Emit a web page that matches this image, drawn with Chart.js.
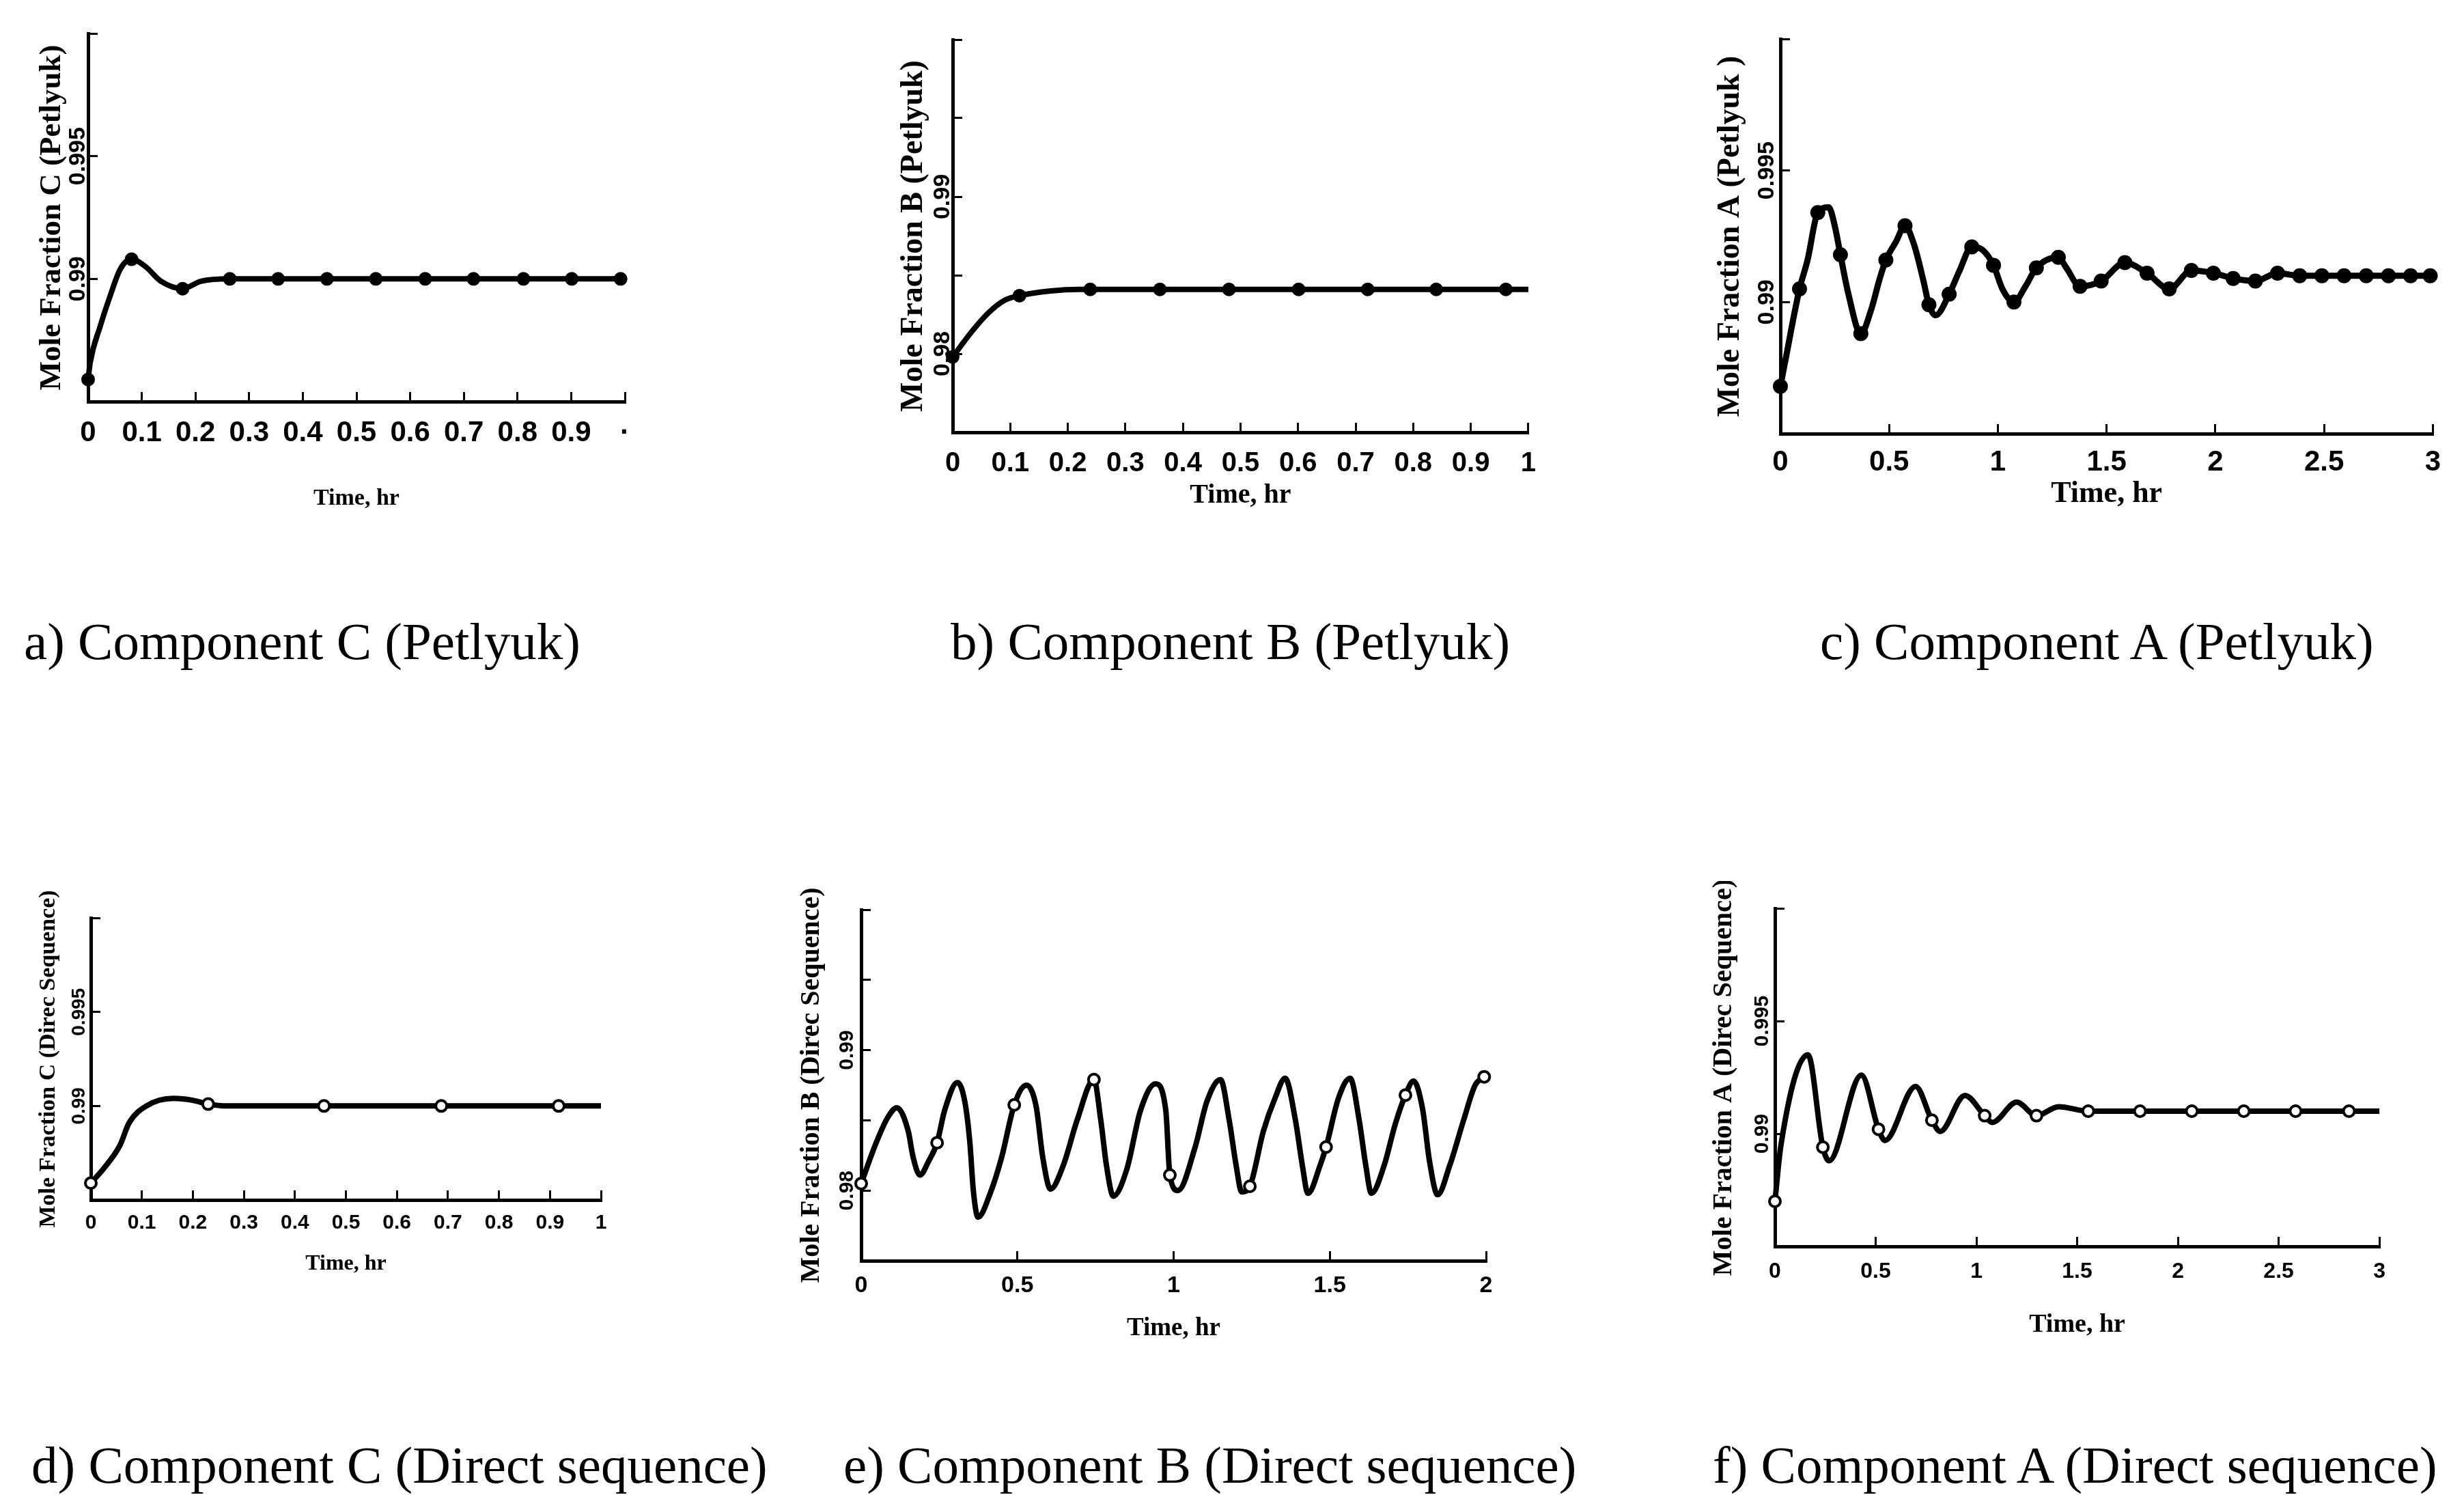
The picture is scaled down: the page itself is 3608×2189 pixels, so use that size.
<!DOCTYPE html>
<html>
<head>
<meta charset="utf-8">
<script src="https://cdn.jsdelivr.net/npm/chart.js@4.4.1/dist/chart.umd.min.js"></script>
<style>
  body { margin: 0; background: #fff; }
  #page { position: relative; width: 3608px; height: 2189px; background: #fff; overflow: hidden; }
  #page canvas { position: absolute; }
  .cap { position: absolute; font-family: "Liberation Serif", "Times New Roman", serif; font-size: 77px; line-height: 1; white-space: nowrap; color: #000; }
</style>
</head>
<body>
<div id="page">
  <canvas id="chartA"></canvas>
  <canvas id="chartB"></canvas>
  <canvas id="chartC"></canvas>
  <canvas id="chartD"></canvas>
  <canvas id="chartE"></canvas>
  <canvas id="chartF"></canvas>
  <div class="cap" style="left:35px;top:901px">a) Component C (Petlyuk)</div>
  <div class="cap" style="left:1392px;top:901px">b) Component B (Petlyuk)</div>
  <div class="cap" style="left:2665px;top:901px">c) Component A (Petlyuk)</div>
  <div class="cap" style="left:46px;top:2107px">d) Component C (Direct sequence)</div>
  <div class="cap" style="left:1235px;top:2107px">e) Component B (Direct sequence)</div>
  <div class="cap" style="left:2508px;top:2107px">f) Component A (Direct sequence)</div>
</div>
<script>
// a) Component C (Petlyuk)
const petCTime = [0, 0.004, 0.023, 0.041, 0.06, 0.081, 0.107, 0.136, 0.176, 0.21, 0.264, 0.5, 0.75, 0.992];
const petCMole = [0.9859, 0.9866, 0.9881, 0.9893, 0.9904, 0.9908, 0.9905, 0.9899, 0.9896, 0.9899, 0.99, 0.99, 0.99, 0.99];
const petCMarkTime = [0, 0.081, 0.176, 0.264, 0.354, 0.445, 0.536, 0.628, 0.718, 0.811, 0.901, 0.992];
const petCMarkMole = [0.9859, 0.9908, 0.9896, 0.99, 0.99, 0.99, 0.99, 0.99, 0.99, 0.99, 0.99, 0.99];

// b) Component B (Petlyuk)
const petBTime = [0, 0.033, 0.062, 0.09, 0.116, 0.17, 0.22, 1.0];
const petBMole = [0.9798, 0.9814, 0.9826, 0.9834, 0.9837, 0.984, 0.9841, 0.9841];
const petBMarkTime = [0, 0.116, 0.239, 0.36, 0.48, 0.601, 0.721, 0.84, 0.961];
const petBMarkMole = [0.9798, 0.9837, 0.9841, 0.9841, 0.9841, 0.9841, 0.9841, 0.9841, 0.9841];

// c) Component A (Petlyuk)
const petATime = [0, 0.021, 0.088, 0.125, 0.172, 0.222, 0.25, 0.276, 0.313, 0.37, 0.417, 0.457, 0.485, 0.532, 0.573, 0.614, 0.658, 0.683, 0.714, 0.776, 0.824, 0.88, 0.927, 0.98, 1.021, 1.074, 1.127, 1.177, 1.278, 1.315, 1.378, 1.475, 1.584, 1.686, 1.788, 1.89, 1.991, 2.082, 2.184, 2.286, 2.388, 3.0];
const petAMole = [0.9868, 0.9877, 0.9905, 0.9916, 0.9934, 0.9936, 0.9929, 0.9918, 0.9903, 0.9888, 0.9897, 0.9909, 0.9916, 0.9923, 0.9929, 0.9922, 0.9908, 0.9899, 0.9895, 0.9903, 0.9912, 0.9921, 0.992, 0.9914, 0.9905, 0.99, 0.9906, 0.9913, 0.9917, 0.9913, 0.9906, 0.9908, 0.9915, 0.9911, 0.9905, 0.9912, 0.9911, 0.9909, 0.9908, 0.9911, 0.991, 0.991];
const petAMarkTime = [0, 0.088, 0.172, 0.276, 0.37, 0.485, 0.573, 0.683, 0.776, 0.88, 0.98, 1.074, 1.177, 1.278, 1.378, 1.475, 1.584, 1.686, 1.788, 1.89, 1.991, 2.082, 2.184, 2.286, 2.388, 2.49, 2.592, 2.694, 2.796, 2.898, 2.988];
const petAMarkMole = [0.9868, 0.9905, 0.9934, 0.9918, 0.9888, 0.9916, 0.9929, 0.9899, 0.9903, 0.9921, 0.9914, 0.99, 0.9913, 0.9917, 0.9906, 0.9908, 0.9915, 0.9911, 0.9905, 0.9912, 0.9911, 0.9909, 0.9908, 0.9911, 0.991, 0.991, 0.991, 0.991, 0.991, 0.991, 0.991];

// d) Component C (Direct sequence)
const dirCTime = [0, 0.026, 0.057, 0.075, 0.109, 0.162, 0.2, 0.23, 0.268, 1.0];
const dirCMole = [0.9859, 0.9867, 0.9879, 0.9891, 0.99, 0.9904, 0.9903, 0.9901, 0.99, 0.99];
const dirCMarkTime = [0, 0.23, 0.457, 0.687, 0.917];
const dirCMarkMole = [0.9859, 0.9901, 0.99, 0.99, 0.99];

// e) Component B (Direct sequence)
const dirBTime = [0, 0.048, 0.085, 0.114, 0.151, 0.166, 0.188, 0.216, 0.243, 0.267, 0.308, 0.332, 0.348, 0.359, 0.374, 0.413, 0.45, 0.49, 0.529, 0.56, 0.581, 0.606, 0.647, 0.691, 0.745, 0.767, 0.785, 0.807, 0.85, 0.894, 0.942, 0.975, 0.988, 1.014, 1.069, 1.106, 1.15, 1.178, 1.2, 1.218, 1.244, 1.287, 1.325, 1.357, 1.39, 1.412, 1.43, 1.469, 1.488, 1.528, 1.565, 1.594, 1.615, 1.633, 1.674, 1.709, 1.742, 1.768, 1.797, 1.819, 1.845, 1.884, 1.928, 1.965, 1.994];
const dirBMole = [0.9805, 0.9834, 0.9852, 0.9859, 0.9842, 0.9824, 0.9811, 0.9821, 0.9834, 0.9857, 0.9877, 0.9863, 0.9834, 0.98, 0.9781, 0.9798, 0.9824, 0.9861, 0.9875, 0.986, 0.9824, 0.9801, 0.9818, 0.985, 0.9879, 0.985, 0.9818, 0.9796, 0.9815, 0.9857, 0.9876, 0.9857, 0.9811, 0.98, 0.9831, 0.9863, 0.9879, 0.985, 0.9818, 0.9799, 0.9803, 0.9842, 0.9866, 0.988, 0.985, 0.9818, 0.9798, 0.9818, 0.9831, 0.9866, 0.988, 0.985, 0.9818, 0.9798, 0.9818, 0.9847, 0.9868, 0.9878, 0.9858, 0.9821, 0.9797, 0.9818, 0.985, 0.9875, 0.9881];
const dirBMarkTime = [0, 0.243, 0.49, 0.745, 0.988, 1.244, 1.488, 1.742, 1.994];
const dirBMarkMole = [0.9805, 0.9834, 0.9861, 0.9879, 0.9811, 0.9803, 0.9831, 0.9868, 0.9881];

// f) Component A (Direct sequence)
const dirATime = [0, 0.03, 0.164, 0.238, 0.269, 0.429, 0.514, 0.546, 0.698, 0.779, 0.82, 0.943, 1.041, 1.078, 1.2, 1.298, 1.408, 1.555, 1.812, 2.069, 2.327, 2.584, 2.849, 3.0];
const dirAMole = [0.987, 0.9895, 0.9935, 0.9894, 0.9888, 0.9926, 0.9902, 0.9897, 0.9921, 0.9906, 0.9901, 0.9917, 0.9908, 0.9905, 0.9914, 0.9908, 0.9912, 0.991, 0.991, 0.991, 0.991, 0.991, 0.991, 0.991];
const dirAMarkTime = [0, 0.238, 0.514, 0.779, 1.041, 1.298, 1.555, 1.812, 2.069, 2.327, 2.584, 2.849];
const dirAMarkMole = [0.987, 0.9894, 0.9902, 0.9906, 0.9908, 0.9908, 0.991, 0.991, 0.991, 0.991, 0.991, 0.991];

// tick labels that are printed on the y axes
const yLabelsHigh = ['0.99', '0.995'];
const yLabelsLow = ['0.98', '0.99'];

function toPoints(xs, ys) {
    return xs.map(function(x, i) { return {x: x, y: ys[i]}; });
}

function fmtTenth(v) {
    return String(Math.round(v * 10) / 10);
}

function createPanel(p) {
    let titleLh = p.titleFont * 1.2;
    let timeLh = p.timeFont * 1.2;
    let left = Math.round(p.titleX - titleLh / 2 - 4);
    let top = p.axisT - 40;
    let right = p.axisR + 40;
    let bottom = Math.round(p.timeY + timeLh / 2 + 4);
    let yW = p.axisL - left;
    let xH = bottom - p.axisB;

    let canvas = document.getElementById(p.id);
    canvas.width = right - left;
    canvas.height = bottom - top;
    canvas.style.left = left + 'px';
    canvas.style.top = top + 'px';

    const config = {
        type: 'line',
        data: {
            datasets: [
                {
                    data: toPoints(p.markT, p.markY),
                    showLine: false,
                    pointRadius: p.markR,
                    pointBorderWidth: p.filled ? 2 : 4,
                    pointBackgroundColor: p.filled ? '#000' : '#fff',
                    pointBorderColor: '#000',
                    clip: false,
                    order: 0
                },
                {
                    data: toPoints(p.curveT, p.curveY),
                    borderColor: '#000',
                    borderWidth: p.lineW,
                    pointRadius: 0,
                    cubicInterpolationMode: 'monotone',
                    fill: false,
                    clip: false,
                    order: 1
                }
            ]
        },
        options: {
            responsive: false,
            animation: false,
            layout: {padding: {top: 40, right: 40, left: 0, bottom: 0}},
            plugins: {legend: {display: false}, tooltip: {enabled: false}},
            scales: {
                x: {
                    type: 'linear',
                    min: p.xMin,
                    max: p.xMax,
                    afterFit: function(s) { s.height = xH; },
                    border: {display: true, color: '#000', width: 5},
                    grid: {display: true, drawOnChartArea: false, drawTicks: true, tickLength: -14, tickWidth: 3, tickColor: '#000'},
                    ticks: {
                        stepSize: p.xStep,
                        autoSkip: false,
                        maxRotation: 0,
                        minRotation: 0,
                        padding: p.xPad,
                        color: '#000',
                        font: {family: 'Liberation Sans', weight: 'bold', size: p.xTickFont},
                        callback: p.xFmt
                    },
                    title: {
                        display: true,
                        text: 'Time, hr',
                        color: '#000',
                        padding: {top: 0, bottom: 4},
                        font: {family: 'Liberation Serif', weight: 'bold', size: p.timeFont}
                    }
                },
                y: {
                    type: 'linear',
                    min: p.yMin,
                    max: p.yMax,
                    afterFit: function(s) { s.width = yW; },
                    border: {display: true, color: '#000', width: 5},
                    grid: {display: true, drawOnChartArea: false, drawTicks: true, tickLength: -14, tickWidth: 3, tickColor: '#000'},
                    ticks: {
                        stepSize: 0.005,
                        autoSkip: false,
                        minRotation: 90,
                        maxRotation: 90,
                        crossAlign: 'center',
                        padding: p.yPad,
                        color: '#000',
                        font: {family: 'Liberation Sans', weight: 'bold', size: p.yTickFont},
                        callback: function(v) {
                            let hit = p.yLabels.find(function(l) { return Math.abs(parseFloat(l) - v) < 1e-6; });
                            return hit ? hit : '';
                        }
                    },
                    title: {
                        display: true,
                        text: p.yTitle,
                        color: '#000',
                        padding: {top: 4, bottom: 0},
                        font: {family: 'Liberation Serif', weight: 'bold', size: p.titleFont}
                    }
                }
            }
        }
    };
    new Chart(canvas.getContext('2d'), config);
}

createPanel({
    id: 'chartA', axisL: 129, axisR: 917, axisT: 49, axisB: 588, titleX: 76, timeY: 731,
    titleFont: 45, timeFont: 34, xTickFont: 42, yTickFont: 34, xPad: 35, yPad: -14,
    xMin: 0, xMax: 1, xStep: 0.1, yMin: 0.985, yMax: 1.0, yLabels: yLabelsHigh,
    xFmt: function(v) { return Math.abs(v - 1) < 1e-9 ? '·' : fmtTenth(v); },
    yTitle: 'Mole Fraction C (Petlyuk)', filled: true, markR: 9, lineW: 8,
    curveT: petCTime, curveY: petCMole, markT: petCMarkTime, markY: petCMarkMole
});

createPanel({
    id: 'chartB', axisL: 1395, axisR: 2245, axisT: 58, axisB: 633, titleX: 1339, timeY: 726,
    titleFont: 46, timeFont: 40, xTickFont: 40, yTickFont: 34, xPad: 36, yPad: -5,
    xMin: 0, xMax: 1, xStep: 0.1, yMin: 0.975, yMax: 1.0, yLabels: yLabelsLow,
    xFmt: fmtTenth,
    yTitle: 'Mole Fraction B (Petlyuk)', filled: true, markR: 9, lineW: 8,
    curveT: petBTime, curveY: petBMole, markT: petBMarkTime, markY: petBMarkMole
});

createPanel({
    id: 'chartC', axisL: 2607, axisR: 3565, axisT: 57, axisB: 635, titleX: 2535, timeY: 724,
    titleFont: 46, timeFont: 44, xTickFont: 42, yTickFont: 34, xPad: 31, yPad: -9,
    xMin: 0, xMax: 3, xStep: 0.5, yMin: 0.985, yMax: 1.0, yLabels: yLabelsHigh,
    xFmt: fmtTenth,
    yTitle: 'Mole Fraction A (Petlyuk )', filled: true, markR: 10, lineW: 9,
    curveT: petATime, curveY: petAMole, markT: petAMarkTime, markY: petAMarkMole
});

createPanel({
    id: 'chartD', axisL: 133, axisR: 880, axisT: 1344, axisB: 1757, titleX: 71, timeY: 1851,
    titleFont: 34, timeFont: 32, xTickFont: 30, yTickFont: 28, xPad: 30, yPad: -4,
    xMin: 0, xMax: 1, xStep: 0.1, yMin: 0.985, yMax: 1.0, yLabels: yLabelsHigh,
    xFmt: fmtTenth,
    yTitle: 'Mole Fraction C (Direc Sequence)', filled: false, markR: 8, lineW: 8,
    curveT: dirCTime, curveY: dirCMole, markT: dirCMarkTime, markY: dirCMarkMole
});

createPanel({
    id: 'chartE', axisL: 1261, axisR: 2176, axisT: 1332, axisB: 1846, titleX: 1189, timeY: 1946,
    titleFont: 40, timeFont: 37, xTickFont: 34, yTickFont: 30, xPad: 30, yPad: 5,
    xMin: 0, xMax: 2, xStep: 0.5, yMin: 0.975, yMax: 1.0, yLabels: yLabelsLow,
    xFmt: fmtTenth,
    yTitle: 'Mole Fraction B (Direc Sequence)', filled: false, markR: 8, lineW: 8,
    curveT: dirBTime, curveY: dirBMole, markT: dirBMarkTime, markY: dirBMarkMole
});

createPanel({
    id: 'chartF', axisL: 2599, axisR: 3485, axisT: 1330, axisB: 1825, titleX: 2525, timeY: 1940,
    titleFont: 40, timeFont: 38, xTickFont: 32, yTickFont: 30, xPad: 32, yPad: -5,
    xMin: 0, xMax: 3, xStep: 0.5, yMin: 0.985, yMax: 1.0, yLabels: yLabelsHigh,
    xFmt: fmtTenth,
    yTitle: 'Mole Fraction A (Direc Sequence)', filled: false, markR: 8, lineW: 8,
    curveT: dirATime, curveY: dirAMole, markT: dirAMarkTime, markY: dirAMarkMole
});
</script>
</body>
</html>
